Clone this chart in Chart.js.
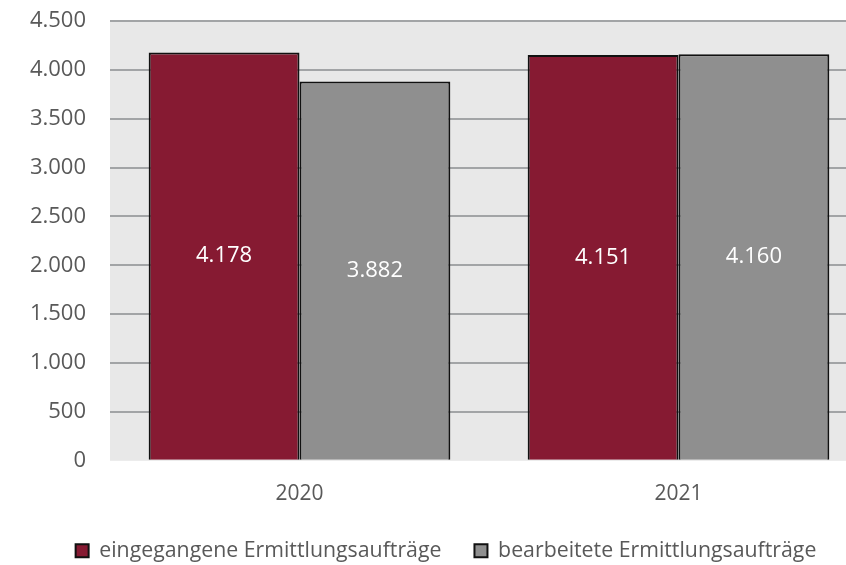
<!DOCTYPE html>
<html>
<head>
<meta charset="utf-8">
<script src="https://cdn.jsdelivr.net/npm/chart.js@4"></script>
<style>
    html, body { margin: 0; padding: 0; background: #fff; overflow: hidden; }
    #wrap { width: 892px; height: 565px; }
</style>
</head>
<body>
<div id="wrap"><canvas id="auftraegeChart"></canvas></div>
<script>
const years = ['2020', '2021'];
const eingegangen = [4178, 4151];
const bearbeitet = [3882, 4160];
const yTicks = [0, 500, 1000, 1500, 2000, 2500, 3000, 3500, 4000, 4500];

const fontFamily = '"Open Sans", "Liberation Sans", sans-serif';
const textGray = '#595959';

// grauer Hintergrund der Zeichenfläche
const plotBackground = {
    id: 'plotBackground',
    beforeDraw(chart) {
        const { ctx, chartArea } = chart;
        ctx.save();
        ctx.fillStyle = '#e8e8e8';
        ctx.fillRect(chartArea.left, chartArea.top, chartArea.right - chartArea.left, chartArea.bottom - chartArea.top);
        ctx.restore();
    }
};

// Werte mittig in die Balken schreiben
const barValues = {
    id: 'barValues',
    afterDatasetsDraw(chart) {
        const ctx = chart.ctx;
        ctx.save();
        ctx.fillStyle = '#ffffff';
        ctx.font = '22px ' + fontFamily;
        ctx.textAlign = 'center';
        ctx.textBaseline = 'middle';
        chart.data.datasets.forEach((ds, i) => {
            chart.getDatasetMeta(i).data.forEach((bar, j) => {
                const label = ds.data[j].toLocaleString('de-DE');
                ctx.fillText(label, bar.x, (bar.y + bar.base) / 2);
            });
        });
        ctx.restore();
    }
};

var ctx = document.getElementById('auftraegeChart').getContext('2d');
var auftraegeChart = new Chart(ctx, {
    type: 'bar',
    data: {
        labels: years,
        datasets: [{
            label: 'eingegangene Ermittlungsaufträge',
            data: eingegangen,
            backgroundColor: '#861a32',
            borderColor: '#111111',
            borderWidth: 2
        }, {
            label: 'bearbeitete Ermittlungsaufträge',
            data: bearbeitet,
            backgroundColor: '#8f8f8f',
            borderColor: '#111111',
            borderWidth: 2
        }]
    },
    options: {
        responsive: true,
        maintainAspectRatio: false,
        animation: false,
        layout: {
            padding: 0
        },
        datasets: {
            bar: { categoryPercentage: 0.796, barPercentage: 1 }
        },
        plugins: {
            legend: {
                position: 'bottom',
                maxHeight: 58,
                labels: {
                    color: textGray,
                    font: { size: 21.3, family: fontFamily },
                    boxWidth: 13,
                    boxHeight: 13,
                    padding: 33
                }
            },
            tooltip: { enabled: false }
        },
        scales: {
            x: {
                afterFit(scale) {
                    scale.paddingRight = 24;
                },
                grid: { display: false, drawTicks: true, tickLength: 21 },
                border: { display: false },
                ticks: {
                    color: textGray,
                    font: { size: 21, family: fontFamily },
                    padding: 0
                }
            },
            y: {
                min: 0,
                max: 4500,
                afterBuildTicks(scale) {
                    scale.ticks = yTicks.map(v => ({ value: v }));
                },
                afterFit(scale) {
                    scale.width = 110;
                    scale.paddingTop = 21;
                    scale.paddingBottom = 0;
                },
                grid: {
                    color: ctx => ctx.tick.value === 0 ? 'rgba(0,0,0,0)' : '#a2a4a6',
                    lineWidth: 2,
                    drawTicks: false
                },
                border: { display: false },
                ticks: {
                    color: textGray,
                    font: { size: 22, family: fontFamily },
                    padding: 24,
                    callback: v => v.toLocaleString('de-DE')
                }
            }
        }
    },
    plugins: [plotBackground, barValues]
});
</script>
</body>
</html>
